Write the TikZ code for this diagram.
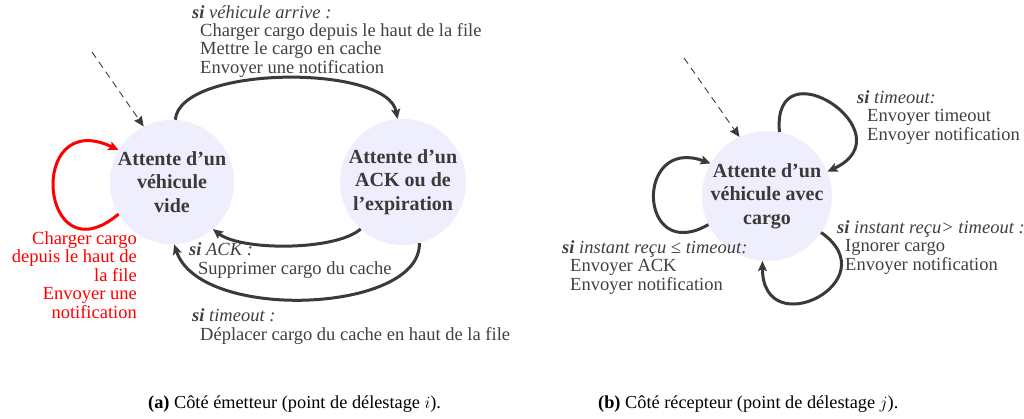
\documentclass[tikz,border=0pt]{standalone}
\usepackage{fontspec}
\setmainfont{Liberation Serif}
\usetikzlibrary{arrows.meta}
\definecolor{stfill}{RGB}{238,238,252}
\definecolor{ink}{RGB}{58,58,58}
\definecolor{txt}{RGB}{64,64,64}
\definecolor{myred}{RGB}{255,0,0}
\newcommand{\si}{\textbf{\textit{si}}}
\begin{document}
\begin{tikzpicture}[x=1pt,y=1pt,
  state/.style={circle,fill=stfill,minimum size=120pt,inner sep=0pt,align=center,text=ink,font=\bfseries\fontsize{20}{23.5}\selectfont},
  trans/.style={line width=3pt,draw=ink,-{Stealth[length=10pt,width=9pt,inset=2pt]}},
  initarr/.style={dash pattern=on 7pt off 5pt,line width=0.9pt,draw=ink,-{Stealth[length=10pt,width=9pt,inset=1pt]}},
  lbl/.style={anchor=base west,align=left,text=txt,inner sep=0pt,font=\fontsize{18.5}{18.3}\selectfont},
  captext/.style={anchor=base west,inner sep=0pt,text=black,font=\fontsize{18.3}{18.3}\selectfont},
]
\useasboundingbox (0,0) rectangle (1024,-418);

% ---------- (a) ----------
\node[state] (va) at (172,-182) {Attente d’un\\véhicule\\vide};
\node[state] (vb) at (403,-182) {Attente d’un\\ACK ou de\\l’expiration};
\coordinate (ia) at (92,-52);
\draw[initarr] (ia) -- (va.117);

\draw[trans] (va.87) .. controls +(5,55) and +(-10,55) .. (vb.95);
\draw[trans] (vb.228) .. controls +(-25,-22) and +(28,-22) .. (va.311);
\draw[trans] (vb.285) .. controls +(2,-70) and +(26,-78) .. (va.272);
\draw[trans,draw=myred] (va.211) to[out=220,in=155,looseness=4.1] (va.149);

% base anchor of a multi-line node = baseline of its last line
\node[lbl] (la1) at (192,-73) {\si\ \textit{véhicule arrive :}\\\hspace*{8pt}Charger cargo depuis le haut de la file\\\hspace*{8pt}Mettre le cargo en cache\\\hspace*{8pt}Envoyer une notification};
\node[lbl] (la2) at (189,-274) {\si\ \textit{ACK :}\\\hspace*{9pt}Supprimer cargo du cache};
\node[lbl] (la3) at (192,-340) {\si\ \textit{timeout :}\\\hspace*{8pt}Déplacer cargo du cache en haut de la file};
\node[lbl,anchor=base east,align=right,text=myred,font=\fontsize{18.5}{18.5}\selectfont] (la4) at (137,-318) {Charger cargo\\depuis le haut de\\la file\\Envoyer une\\notification};

% ---------- (b) ----------
\node[state] (vc) at (767,-196) {Attente d’un\\véhicule avec\\cargo};
\coordinate (ib) at (684,-58);
\draw[initarr] (ib) -- (vc.115);
\draw[trans] (vc.79) to[out=95,in=25,looseness=3.7] (vc.22);
\draw[trans] (vc.206) to[out=210,in=160,looseness=3.4] (vc.150);
\draw[trans] (vc.326) to[out=-35,in=-90,looseness=3.3] (vc.266);

\node[lbl] (lb1) at (857,-140) {\si\ \textit{timeout:}\\\hspace*{10pt}Envoyer timeout\\\hspace*{10pt}Envoyer notification};
\node[lbl] (lb2) at (837,-270) {\si\ \textit{instant reçu> timeout :}\\\hspace*{8pt}Ignorer cargo\\\hspace*{8pt}Envoyer notification};
\node[lbl] (lb3) at (562,-290) {\si\ \textit{instant reçu ≤ timeout:}\\\hspace*{8pt}Envoyer ACK\\\hspace*{8pt}Envoyer notification};

% ---------- captions ----------
\node[captext] (ca) at (148,-408) {\textbf{(a)} Côté émetteur (point de délestage $i$).};
\node[captext] (cb) at (598,-408) {\textbf{(b)} Côté récepteur (point de délestage $j$).};
\end{tikzpicture}
\end{document}
